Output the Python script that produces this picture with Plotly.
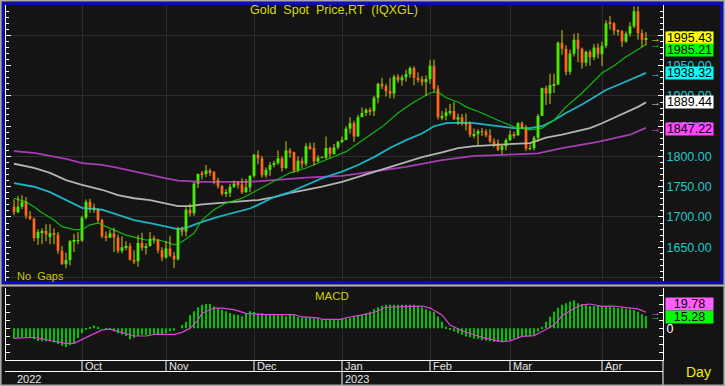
import plotly.graph_objects as go
import pandas as pd

W, H = 725, 386


def px(x):
    return x / W


def py(y):
    return 1 - y / H


# ---------------- data ----------------
dates = pd.bdate_range("2022-09-08", "2023-04-18")

open_ = [1717, 1708, 1717, 1725, 1702, 1697, 1665, 1675, 1677, 1667,
         1673, 1671, 1644, 1622, 1629, 1660, 1661,
         1661, 1699, 1725, 1716, 1712, 1695, 1668, 1666, 1673, 1666,
         1644, 1650, 1652, 1629, 1627, 1657, 1649, 1652, 1664, 1663, 1645,
         1633, 1648, 1636, 1630, 1681, 1676, 1712, 1706, 1755, 1773,
         1771, 1777, 1774, 1761, 1751, 1738, 1740, 1750, 1757, 1754, 1741, 1749,
         1768, 1803, 1797, 1769, 1778, 1786, 1789, 1797, 1781, 1810,
         1807, 1777, 1793, 1788, 1817, 1814, 1792, 1798, 1798, 1814, 1804, 1815,
         1824, 1827, 1846, 1855, 1833, 1865, 1872, 1877, 1875, 1897,
         1920, 1916, 1908, 1904, 1932, 1926, 1931, 1936, 1946, 1930, 1928, 1923,
         1928, 1950, 1912, 1865, 1867, 1873, 1875, 1861, 1865, 1854,
         1853, 1835, 1837, 1842, 1841, 1835, 1825, 1822, 1811, 1817,
         1827, 1836, 1835, 1855, 1847, 1813, 1814, 1831, 1867, 1913,
         1904, 1918, 1919, 1988, 1978, 1940, 1970, 1993, 1978, 1955, 1973, 1964, 1980,
         1969, 1983, 2022, 2020, 2008, 2007, 1990, 2003, 2015, 2040, 2004, 1993]

high = [1729, 1735, 1736, 1733, 1710, 1699, 1680, 1681, 1688, 1688,
        1681, 1675, 1652, 1641, 1662, 1672, 1675,
        1702, 1729, 1730, 1722, 1714, 1697, 1676, 1679, 1682, 1671,
        1668, 1660, 1657, 1645, 1670, 1674, 1657, 1675, 1669, 1664, 1650,
        1660, 1669, 1642, 1684, 1684, 1716, 1722, 1758, 1772, 1776,
        1786, 1780, 1776, 1765, 1753, 1746, 1755, 1760, 1759, 1764, 1763, 1769,
        1804, 1810, 1801, 1782, 1791, 1793, 1810, 1800, 1825, 1814,
        1808, 1800, 1798, 1822, 1823, 1823, 1802, 1800, 1833, 1816, 1821, 1826,
        1833, 1850, 1865, 1859, 1869, 1881, 1880, 1881, 1900, 1922,
        1930, 1920, 1930, 1935, 1936, 1935, 1943, 1949, 1949, 1939, 1933, 1934,
        1959, 1960, 1918, 1875, 1880, 1887, 1890, 1871, 1870, 1871,
        1858, 1846, 1845, 1847, 1845, 1845, 1830, 1828, 1820, 1830,
        1843, 1841, 1857, 1858, 1852, 1820, 1834, 1870, 1914, 1917,
        1937, 1937, 1990, 2009, 1984, 1977, 2003, 2004, 1980, 1975, 1976, 1986, 1987,
        1990, 2025, 2032, 2022, 2010, 2009, 2007, 2022, 2048, 2048, 2010, 2006]

low = [1703, 1706, 1713, 1697, 1695, 1660, 1654, 1655, 1660, 1655,
       1655, 1639, 1621, 1615, 1620, 1642, 1655,
       1659, 1696, 1707, 1707, 1690, 1665, 1660, 1665, 1642, 1640,
       1640, 1645, 1628, 1622, 1618, 1644, 1638, 1651, 1656, 1640, 1627,
       1631, 1634, 1616, 1628, 1668, 1668, 1701, 1702, 1748, 1762,
       1766, 1768, 1754, 1747, 1735, 1733, 1733, 1748, 1747, 1738, 1740, 1741,
       1765, 1787, 1765, 1765, 1768, 1782, 1786, 1775, 1779, 1798,
       1773, 1774, 1781, 1784, 1811, 1785, 1790, 1797, 1795, 1798, 1803, 1812,
       1822, 1827, 1838, 1824, 1833, 1865, 1867, 1868, 1867, 1888,
       1911, 1899, 1896, 1896, 1922, 1917, 1924, 1930, 1918, 1922, 1917, 1900,
       1920, 1906, 1861, 1860, 1860, 1868, 1861, 1852, 1851, 1843,
       1832, 1830, 1819, 1834, 1832, 1822, 1815, 1809, 1804, 1810,
       1826, 1830, 1834, 1845, 1809, 1810, 1810, 1824, 1867, 1885,
       1887, 1905, 1918, 1968, 1934, 1935, 1965, 1956, 1945, 1949, 1950, 1959, 1962,
       1950, 1979, 2010, 2001, 2000, 1981, 1988, 1998, 2012, 1993, 1981, 1984]

close = [1708, 1717, 1725, 1702, 1697, 1665, 1675, 1677, 1671, 1673,
         1671, 1644, 1622, 1629, 1660, 1661, 1661,
         1699, 1725, 1716, 1712, 1695, 1668, 1666, 1673, 1666, 1644,
         1650, 1652, 1629, 1627, 1657, 1649, 1652, 1664, 1663, 1645, 1633,
         1648, 1636, 1630, 1681, 1676, 1712, 1706, 1755, 1771, 1771,
         1777, 1774, 1761, 1751, 1738, 1740, 1750, 1755, 1754, 1741, 1749, 1768,
         1803, 1797, 1769, 1778, 1786, 1789, 1797, 1781, 1810, 1807,
         1777, 1793, 1788, 1817, 1814, 1792, 1798, 1798, 1814, 1804, 1815, 1824,
         1827, 1846, 1855, 1833, 1865, 1872, 1877, 1875, 1897, 1920,
         1916, 1908, 1904, 1932, 1926, 1931, 1936, 1946, 1930, 1928, 1923, 1928,
         1950, 1912, 1865, 1867, 1873, 1875, 1861, 1865, 1854, 1853,
         1836, 1837, 1842, 1841, 1835, 1825, 1822, 1811, 1817, 1827,
         1836, 1835, 1855, 1847, 1813, 1814, 1831, 1867, 1913, 1904,
         1918, 1919, 1988, 1978, 1940, 1970, 1993, 1978, 1955, 1973, 1964, 1980, 1969,
         1983, 2020, 2020, 2008, 2007, 1990, 2003, 2015, 2040, 2004, 1993, 1995.43]

# moving averages (bar index, value)
ma20_idx = [0, 3, 5, 7, 10, 12, 15, 17, 19, 21, 23, 26, 28, 31, 33, 36, 38, 40, 42, 45,
            47, 50, 53, 57, 61, 65, 69, 73, 77, 79, 83, 87, 92, 96, 100, 104, 106, 108, 111, 113,
            117, 121, 125, 129, 132, 135, 138, 142, 145, 147, 150, 153, 156, 158]
ma20_val = [1731, 1725, 1717, 1707, 1695, 1684, 1679, 1679, 1687, 1690, 1684, 1675, 1670, 1665, 1662,
            1662, 1659, 1654, 1659, 1673, 1695, 1712, 1723, 1731, 1745, 1758, 1773, 1781, 1791, 1797,
            1808, 1826, 1849, 1872, 1890, 1905, 1907, 1897, 1890, 1882, 1872, 1860, 1849, 1844, 1847,
            1860, 1882, 1905, 1925, 1938, 1950, 1965, 1977, 1985.21]

ma50_idx = [0, 5, 9, 13, 17, 22, 26, 30, 34, 38, 41, 43, 47, 51, 55, 59, 61, 65, 69, 73,
            77, 82, 86, 90, 94, 98, 102, 105, 108, 112, 115, 119, 125, 129, 132, 135, 138, 142,
            145, 148, 152, 155, 158]
ma50_val = [1756, 1750, 1741, 1728, 1715, 1712, 1703, 1695, 1690, 1684, 1680, 1682, 1692, 1700, 1707,
            1714, 1720, 1733, 1741, 1753, 1764, 1775, 1786, 1799, 1814, 1827, 1838, 1850, 1855, 1856,
            1855, 1852, 1847, 1847, 1850, 1860, 1872, 1886, 1898, 1910, 1921, 1930, 1938.32]

ma100_idx = [0, 5, 9, 13, 17, 22, 26, 30, 34, 38, 41, 44, 47, 51, 55, 59, 61, 65, 69, 73,
             77, 82, 86, 90, 94, 98, 102, 107, 111, 115, 119, 125, 129, 133, 137, 141, 144, 147,
             150, 153, 156, 158]
ma100_val = [1788, 1781, 1773, 1761, 1753, 1745, 1736, 1731, 1728, 1723, 1718, 1718, 1721, 1723, 1725,
             1726, 1728, 1733, 1740, 1745, 1750, 1758, 1766, 1775, 1783, 1791, 1799, 1807, 1814, 1817,
             1819, 1821, 1822, 1831, 1836, 1842, 1847, 1855, 1864, 1872, 1882, 1889.44]

ma200_idx = [0, 5, 9, 13, 17, 22, 26, 30, 34, 38, 41, 47, 55, 59, 65, 73, 82, 90, 98, 107,
             115, 119, 125, 131, 137, 146, 154, 158]
ma200_val = [1809, 1806, 1801, 1796, 1789, 1786, 1781, 1775, 1769, 1764, 1760, 1758, 1758, 1758, 1761,
             1765, 1768, 1775, 1783, 1794, 1801, 1802, 1804, 1805, 1814, 1824, 1836, 1847.22]

macd = [-13, -11.5, -11, -11, -11.5, -13.5, -15.5, -16, -16, -16,
        -17.5, -19.5, -21.5, -23.5, -21, -18, -12, -6, -2, 1,
        3.5, 2, 0, -1, -2, -4, -6, -7.5, -9.5, -13.5,
        -11.5, -9.5, -8, -8, -7.5, -8, -7.5, -7.5, -6, -4,
        -3, 0, 4, 8, 16, 21, 26, 29, 30, 30,
        27, 25, 23, 21, 19, 17, 16.5, 15, 19, 21,
        20, 18, 18.5, 16.5, 18, 18, 16.5, 17, 15, 16.5,
        16.5, 14, 13.5, 14, 13, 12.5, 12.5, 11, 10, 11,
        11, 10, 12.5, 12, 13, 14.5, 15.5,
        16.5, 18.5, 20.5, 23.5, 26, 28, 29, 29, 29, 29,
        29, 29, 29, 29, 28, 26, 23.5, 21.5, 20, 14.5,
        8, 2, -2, -4, -6, -8, -10, -11, -12.5, -13,
        -14.5, -15, -15.5, -16.5, -16.5, -15.5, -15.5, -14.5, -13, -12.5,
        -10, -10, -10, -9, -4, 2, 8, 14.5, 20.5, 25.5,
        29, 31, 33, 34.5, 31, 30, 29, 27.5, 27.5, 28,
        27.5, 27.5, 27, 26, 25, 25, 24, 23.5, 22.5, 20.5,
        17.5, 15.28]

sig_idx = [0, 5, 9, 13, 15, 17, 20, 22, 24, 27, 30, 33, 35, 40, 42, 44, 46, 47, 50, 52,
           55, 58, 63, 70, 72, 76, 77, 82, 83, 87, 90, 93, 99, 102, 104, 107, 109, 112, 115, 118,
           122, 124, 127, 130, 132, 135, 137, 140, 142, 144, 147, 150, 153, 156, 158]
sig_val = [-12.3, -11, -15, -18.5, -18.5, -13.5, -6, -2, -1, -5, -9.5, -9.5, -7.5, -7.5, -5, 0, 10,
           18.5, 25, 25, 23, 18.5, 17, 17, 14, 13, 11, 11, 13, 16.5, 19.5, 26, 27.5, 27.5, 25, 16.5,
           4, -3, -8, -12.5, -16.5, -15.5, -10, -9, -4, 4, 15.5, 24.5, 29, 30, 27, 27.5, 25.5, 24,
           19.78]

price_ticks = [1650, 1700, 1750, 1800, 1850, 1900, 1950, 2000, 2050]
macd_ticks = [-30, -20, -10, 0, 10, 20, 30, 40]

# ---------------- derived ----------------
n = len(close)
idx = list(range(n))
months = list(dates.month)
month_idx = [i for i in range(1, n) if months[i] != months[i - 1]]
month_lbl = [dates[i].strftime("%b") for i in month_idx]
year_idx = [0] + [i for i in range(1, n) if dates[i].year != dates[i - 1].year]

BG = "#141414"
GRID = "#2c2c2c"
FONT = "Arial"

fig = go.Figure()

# moving averages
for ix, vals, col, w in [(ma200_idx, ma200_val, "#a83cb4", 1.8),
                         (ma100_idx, ma100_val, "#b4b4b4", 1.8),
                         (ma50_idx, ma50_val, "#1cb4c4", 1.8),
                         (ma20_idx, ma20_val, "#10b810", 1.2)]:
    fig.add_trace(go.Scatter(x=ix, y=vals, mode="lines", line=dict(color=col, width=w),
                             xaxis="x2", yaxis="y", hoverinfo="skip", showlegend=False))

# wicks
wx, wy = [], []
for i in idx:
    wx += [i, i, None]
    wy += [low[i], high[i], None]
fig.add_trace(go.Scatter(x=wx, y=wy, mode="lines", line=dict(color="#cccc00", width=1),
                         xaxis="x2", yaxis="y", hoverinfo="skip", showlegend=False))

# bodies
base = [min(o, c) for o, c in zip(open_, close)]
hgt = [max(abs(c - o), 0.6) for o, c in zip(open_, close)]
cols = ["#00ee00" if c >= o else "#ff2424" for o, c in zip(open_, close)]
fig.add_trace(go.Bar(x=idx, y=hgt, base=base, width=0.75,
                     marker=dict(color=cols, line=dict(width=0)),
                     xaxis="x2", yaxis="y", hoverinfo="skip", showlegend=False))

# MACD
fig.add_trace(go.Bar(x=idx, y=macd, width=0.45, marker=dict(color="#00c400", line=dict(width=0)),
                     xaxis="x", yaxis="y2", hoverinfo="skip", showlegend=False))
fig.add_trace(go.Scatter(x=sig_idx, y=sig_val, mode="lines", line=dict(color="#e040e0", width=1.2),
                         xaxis="x", yaxis="y2", hoverinfo="skip", showlegend=False))

# invisible traces to activate helper axes
for xa, ya, yv in [("x2", "y3", close[-1]), ("x2", "y4", close[-1]), ("x", "y5", 0)]:
    fig.add_trace(go.Scatter(x=[idx[-1]], y=[yv], mode="markers", marker=dict(opacity=0),
                             xaxis=xa, yaxis=ya, hoverinfo="skip", showlegend=False))

XR = [-2, 162.25]
YR = [1594.2, 2050.4]
MR = [-39.1, 49.75]
main_dom = [py(281), py(5)]
macd_dom = [py(360), py(288)]

xcommon = dict(range=XR, domain=[px(6), px(663)], tickvals=month_idx, showgrid=True,
               gridcolor=GRID, gridwidth=1, showticklabels=False, ticks="", zeroline=False)

tick_minor = dict(dtick=10, tick0=0, ticks="inside", ticklen=3, tickcolor="white", showgrid=False)

fig.update_layout(
    width=W, height=H, margin=dict(l=0, r=0, t=0, b=0),
    paper_bgcolor=BG, plot_bgcolor=BG, barmode="overlay", showlegend=False,
    xaxis=dict(**xcommon, anchor="y2", showline=True, linecolor="white", linewidth=1),
    xaxis2=dict(**xcommon, anchor="y", matches="x", showline=False),
    yaxis=dict(domain=main_dom, range=YR, anchor="x2", side="right", dtick=100, tick0=0,
               showgrid=True, gridcolor=GRID, showticklabels=False, ticks="", showline=False,
               zeroline=False),
    yaxis3=dict(overlaying="y", range=YR, anchor="x2", side="right", tickvals=price_ticks,
                ticktext=[f"{v:.2f}" for v in price_ticks],
                tickfont=dict(color="#1ec8c8", size=12.5, family=FONT),
                ticks="inside", ticklen=5, tickcolor="white", minor=tick_minor,
                showgrid=False, showline=True, linecolor="white", linewidth=1, zeroline=False),
    yaxis4=dict(overlaying="y", range=YR, anchor="x2", side="left", tickvals=price_ticks,
                ticks="inside", ticklen=5, tickcolor="white", minor=tick_minor,
                showticklabels=False, showgrid=False, showline=True, linecolor="white",
                linewidth=1, zeroline=False),
    yaxis2=dict(domain=macd_dom, range=MR, anchor="x", side="right", tickvals=macd_ticks,
                ticktext=["0" if v == 0 else "" for v in macd_ticks],
                tickfont=dict(color="white", size=12.5, family=FONT),
                ticks="inside", ticklen=4, tickcolor="white", showgrid=False,
                showline=True, linecolor="white", linewidth=1, zeroline=False),
    yaxis5=dict(overlaying="y2", range=MR, anchor="x", side="left", tickvals=macd_ticks,
                ticks="inside", ticklen=4, tickcolor="white", showticklabels=False,
                showgrid=False, showline=True, linecolor="white", linewidth=1, zeroline=False),
)

ann = []
ann.append(dict(text="Gold\u00a0 Spot\u00a0 Price,RT\u00a0 (IQXGL)", x=px(334), y=py(10),
                xref="paper", yref="paper", showarrow=False, xanchor="center", yanchor="middle",
                font=dict(color="#d8d800", size=12.5, family=FONT)))
ann.append(dict(text="No\u00a0 Gaps", x=px(15), y=py(276), xref="paper", yref="paper",
                showarrow=False, xanchor="left", yanchor="middle",
                font=dict(color="#c8c800", size=11, family=FONT)))
ann.append(dict(text="MACD", x=px(332), y=py(296), xref="paper", yref="paper",
                showarrow=False, xanchor="center", yanchor="middle",
                font=dict(color="#d0d000", size=11.5, family=FONT)))
ann.append(dict(text="Day", x=px(698), y=py(372), xref="paper", yref="paper",
                showarrow=False, xanchor="center", yanchor="middle",
                font=dict(color="#f0f000", size=14, family=FONT)))

# value tags
tags = [(close[-1], "#ffff00", "#e8e800", "y", 0),
        (ma20_val[-1], "#00ff00", "#20d020", "y", -6),
        (ma50_val[-1], "#00ffff", "#20d0e0", "y", 0),
        (ma100_val[-1], "#ffffff", "#d0d0d0", "y", 0),
        (ma200_val[-1], "#ff48ff", "#e050e0", "y", -1),
        (sig_val[-1], "#ff60ff", "#e050e0", "y2", 8),
        (macd[-1], "#00ff00", "#20d020", "y2", -1)]
for val, bg, arrow_col, yref, shift in tags:
    ann.append(dict(text=f"{val:.2f}", x=px(665), y=val, xref="paper", yref=yref,
                    showarrow=False, xanchor="left", yanchor="middle", yshift=shift,
                    bgcolor=bg, borderpad=0, width=47, height=12, align="center",
                    font=dict(color="black", size=12.5, family=FONT)))
    ann.append(dict(text="→", x=px(655), y=val, xref="paper", yref=yref,
                    showarrow=False, xanchor="center", yanchor="middle",
                    font=dict(color=arrow_col, size=11, family=FONT)))

# month labels
for mi, lbl in zip(month_idx, month_lbl):
    ann.append(dict(text=lbl, x=mi, y=py(366), xref="x", yref="paper", showarrow=False,
                    xanchor="left", yanchor="middle", xshift=1,
                    font=dict(color="#e6e6e6", size=11, family=FONT)))
for yi in year_idx:
    ann.append(dict(text=str(dates[yi].year), x=yi, y=py(378.5), xref="x", yref="paper",
                    showarrow=False, xanchor="left", yanchor="middle", xshift=1,
                    font=dict(color="#e6e6e6", size=11, family=FONT)))
fig.update_layout(annotations=ann)

shapes = []
for mi in month_idx:
    y0 = 0 if mi in year_idx else py(371)
    shapes.append(dict(type="line", xref="x", yref="paper", x0=mi, x1=mi, y0=y0, y1=py(360),
                       line=dict(color="white", width=1)))
shapes.append(dict(type="line", xref="paper", yref="paper", x0=px(5), x1=px(663),
                   y0=py(371.5), y1=py(371.5), line=dict(color="white", width=1)))
shapes.append(dict(type="line", xref="paper", yref="paper", x0=px(663), x1=px(663),
                   y0=0, y1=py(360), line=dict(color="white", width=1)))
# frames
shapes.append(dict(type="line", xref="paper", yref="paper", x0=0, x1=1,
                   y0=py(285.5), y1=py(285.5), line=dict(color="#b8b8b8", width=2)))
shapes.append(dict(type="rect", xref="paper", yref="paper", x0=px(3), x1=px(721.5),
                   y0=py(282.5), y1=py(3.5), line=dict(color="#0a0ad2", width=2.5)))
shapes.append(dict(type="rect", xref="paper", yref="paper", x0=px(0.8), x1=px(724.2),
                   y0=py(385.2), y1=py(0.8), line=dict(color="#a8a8a8", width=1.6)))
fig.update_layout(shapes=shapes)

fig.write_html("out.html")
